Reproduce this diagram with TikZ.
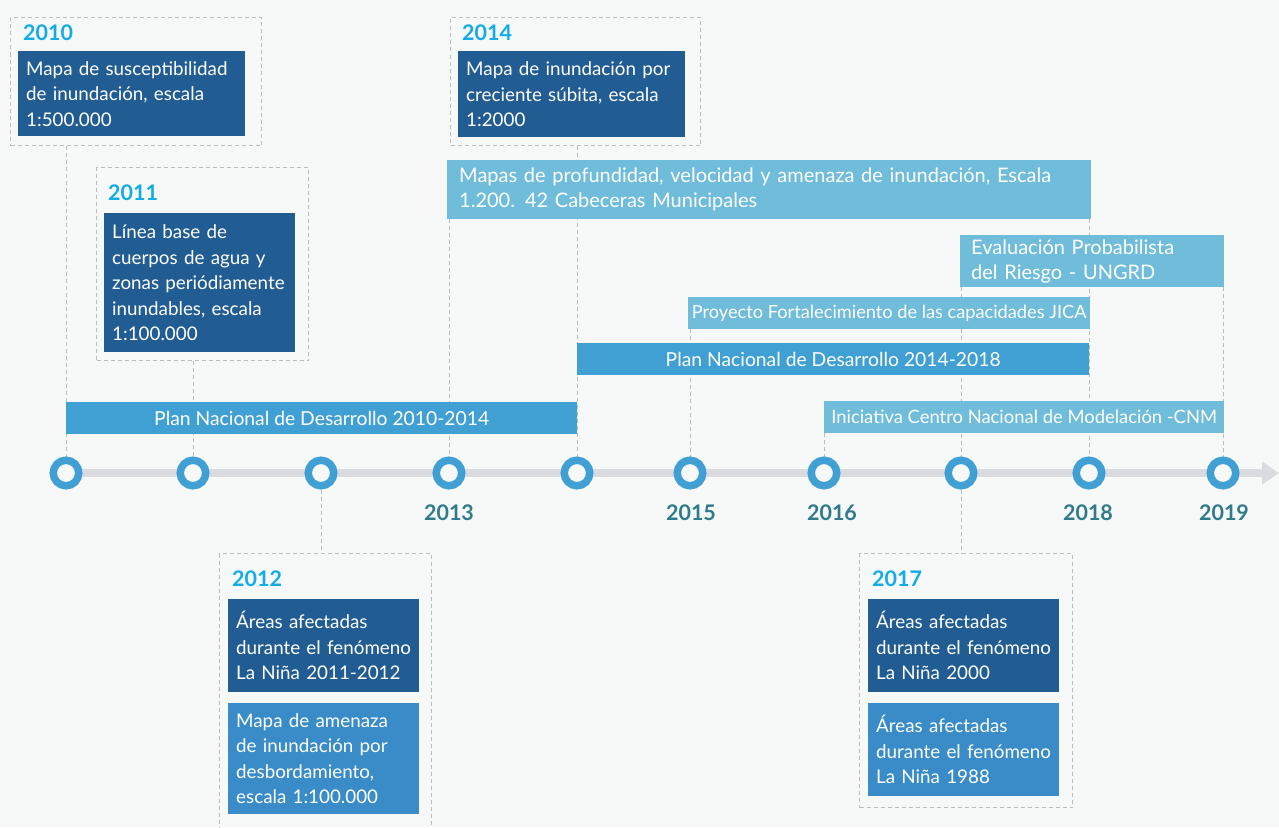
\documentclass[tikz,border=0pt]{standalone}
\usepackage{fontspec}
\setmainfont{Lato}
\usetikzlibrary{arrows.meta}
\definecolor{bgc}{HTML}{F7F8F8}
\definecolor{dblue}{HTML}{215C93}
\definecolor{mblue}{HTML}{3A8CC8}
\definecolor{pblue}{HTML}{40A0D3}
\definecolor{lblue}{HTML}{6FBCDB}
\definecolor{cblue}{HTML}{40A0D3}
\definecolor{ycyan}{HTML}{12ACE6}
\definecolor{yteal}{HTML}{2F7B8C}
\definecolor{tlgray}{HTML}{D9DBDE}
\definecolor{dashc}{HTML}{BDBDBD}
\newcommand{\bodyfont}{\fontsize{18.8}{25.5}\selectfont}
\newcommand{\barfont}{\fontsize{19.3}{25}\selectfont}
\pgfdeclarelayer{back}
\pgfdeclarelayer{under}
\pgfsetlayers{back,under,main}
\tikzset{
  frame/.style={draw=dashc, dash pattern=on 4pt off 3pt, line width=1pt, inner sep=0pt, anchor=north west},
  guide/.style={draw=dashc, dash pattern=on 4pt off 3pt, line width=1pt},
  infobox/.style={text=white, anchor=north west, inner xsep=8pt, inner ysep=0pt, align=left, font=\bodyfont},
  darkbox/.style={infobox, fill=dblue},
  midbox/.style={infobox, fill=mblue},
  barbox/.style={text=white, anchor=north west, inner sep=0pt, font=\barfont},
  dot/.style={circle, draw=cblue, line width=7.5pt, fill=bgc, minimum size=25.5pt, inner sep=0pt},
  topyear/.style={anchor=west, text=ycyan, font=\fontsize{21.5}{21.5}\selectfont\bfseries, inner sep=0pt},
  botyear/.style={text=yteal, font=\fontsize{21.5}{21.5}\selectfont\bfseries, inner sep=0pt},
}
\begin{document}
\begin{tikzpicture}[x=1pt,y=-1pt]
\begin{pgfonlayer}{back}
\fill[bgc] (0,0) rectangle (1279,827);
\end{pgfonlayer}
\useasboundingbox (0,0) rectangle (1279,827);

% circles
\node[dot] (c1) at (66,473) {};
\node[dot] (c2) at (193,473) {};
\node[dot] (c3) at (321,473) {};
\node[dot] (c4) at (449,473) {};
\node[dot] (c5) at (577,473) {};
\node[dot] (c6) at (690,473) {};
\node[dot] (c7) at (824,473) {};
\node[dot] (c8) at (961,473) {};
\node[dot] (c9) at (1089,473) {};
\node[dot] (c10) at (1223,473) {};
\coordinate (tend) at (1279,473);

% dashed frames
\node[frame, minimum width=251pt, minimum height=128pt] (f2010) at (10,17) {};
\node[frame, minimum width=212pt, minimum height=193pt] (f2011) at (96,167) {};
\node[frame, minimum width=250pt, minimum height=128pt] (f2014) at (450,17) {};
\node[frame, minimum width=212pt, minimum height=290pt] (f2012) at (219,553) {};
\node[frame, minimum width=213pt, minimum height=254pt] (f2017) at (859,553) {};

% bars
\node[barbox, fill=lblue, minimum width=644pt, minimum height=59pt, text width=620pt, inner xsep=12pt, align=left, font=\fontsize{20}{25}\selectfont] (mapas) at (447,160)
  {Mapas de profundidad, velocidad y amenaza de inundación, Escala\\1.200. 42 Cabeceras Municipales};
\node[barbox, fill=lblue, minimum width=264pt, minimum height=52pt, text width=242pt, inner xsep=11pt, align=left, font=\fontsize{20}{25}\selectfont] (eval) at (960,235)
  {Evaluación Probabilista\\del Riesgo - UNGRD};
\node[barbox, fill=lblue, minimum width=402pt, minimum height=32pt, font=\fontsize{18.2}{20}\selectfont] (jica) at (688,297)
  {Proyecto Fortalecimiento de las capacidades JICA};
\node[barbox, fill=pblue, minimum width=512pt, minimum height=32pt] (pnd2) at (577,343)
  {Plan Nacional de Desarrollo 2014-2018};
\node[barbox, fill=pblue, minimum width=511pt, minimum height=32pt] (pnd1) at (66,402)
  {Plan Nacional de Desarrollo 2010-2014};
\node[barbox, fill=lblue, minimum width=400pt, minimum height=32pt, font=\fontsize{18.4}{20}\selectfont] (cnm) at (824,401)
  {Iniciativa Centro Nacional de Modelación -CNM};

% guides and timeline underneath
\begin{pgfonlayer}{under}
\draw[guide] (c1 |- f2010.south) -- (c1.north);
\draw[guide] (c2 |- f2011.south) -- (c2.north);
\draw[guide] (c3.south) -- (c3 |- f2012.north);
\draw[guide] (c4 |- mapas.south) -- (c4.north);
\draw[guide] (c5 |- f2014.south) -- (c5.north);
\draw[guide] (c6 |- jica.south) -- (c6.north);
\draw[guide] (c7 |- cnm.south) -- (c7.north);
\draw[guide] (c8 |- eval.south) -- (c8.north);
\draw[guide] (c8.south) -- (c8 |- f2017.north);
\draw[guide] (c9 |- mapas.south) -- (c9.north);
\draw[guide] (c10 |- eval.south) -- (c10.north);
\draw[tlgray, line width=8pt, -{Triangle[length=17pt,width=22pt]}] (c1.center) -- (tend);
\end{pgfonlayer}

% info boxes
\node[darkbox, text width=211pt, minimum height=85pt] (b2010) at (18,51)
  {Mapa de susceptibilidad\\de inundación, escala\\1:500.000};
\node[darkbox, text width=175pt, minimum height=139pt] (b2011) at (104,213)
  {Línea base de\\cuerpos de agua y\\zonas periódiamente\\inundables, escala\\1:100.000};
\node[darkbox, text width=211pt, minimum height=86pt] (b2014) at (458,51)
  {Mapa de inundación por\\creciente súbita, escala\\1:2000};
\node[darkbox, text width=175pt, minimum height=93pt] (b2012a) at (228,599)
  {Áreas afectadas\\durante el fenómeno\\La Niña 2011-2012};
\node[midbox, text width=175pt, minimum height=111pt] (b2012b) at (228,703)
  {Mapa de amenaza\\de inundación por\\desbordamiento,\\escala 1:100.000};
\node[darkbox, text width=175pt, minimum height=93pt] (b2017a) at (868,599)
  {Áreas afectadas\\durante el fenómeno\\La Niña 2000};
\node[midbox, text width=175pt, minimum height=93pt] (b2017b) at (868,703)
  {Áreas afectadas\\durante el fenómeno\\La Niña 1988};

% year labels
\node[topyear] (t2010) at (23,33) {2010};
\node[topyear] (t2011) at (108,193) {2011};
\node[topyear] (t2014) at (462,33) {2014};
\node[topyear] (t2012) at (232,579) {2012};
\node[topyear] (t2017) at (872,579) {2017};

\node[botyear] (y2013) at (449,513) {2013};
\node[botyear] (y2015) at (691,513) {2015};
\node[botyear] (y2016) at (832,513) {2016};
\node[botyear] (y2018) at (1088,513) {2018};
\node[botyear] (y2019) at (1224,513) {2019};
\end{tikzpicture}
\end{document}
